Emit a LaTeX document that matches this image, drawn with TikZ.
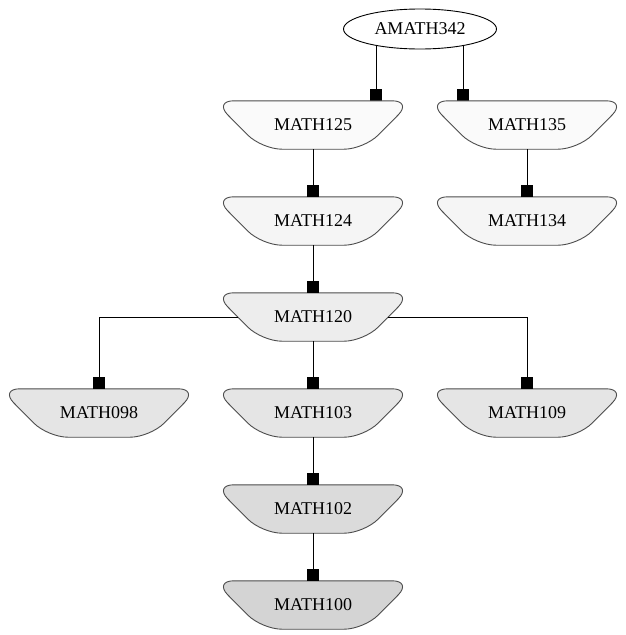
\documentclass[tikz,border=0pt]{standalone}
\usepackage{fontspec}
\setmainfont{Liberation Serif}
\usetikzlibrary{shapes.geometric,arrows.meta,backgrounds}
\begin{document}
\begin{tikzpicture}[x=1pt, y=-1pt,
  course/.style={minimum width=150pt, minimum height=48pt, inner sep=0pt,
    font=\fontsize{18}{20}\selectfont},
  coursebox/.style={draw=black!70, line width=0.9pt, rounded corners=20pt},
  top/.style={ellipse, draw=black, line width=0.9pt, fill=white, minimum width=153pt,
    minimum height=40pt, inner sep=0pt, font=\fontsize{18}{20}\selectfont},
  dep/.style={-{Square[length=12pt,width=12pt]}, line width=0.9pt}]
\useasboundingbox (0,0) rectangle (626,635);
\node[top] (AMATH342) at (420,29) {AMATH342};
\node[course] (MATH125) at (313,125) {MATH125};
\node[course] (MATH135) at (527,125) {MATH135};
\node[course] (MATH124) at (313,221) {MATH124};
\node[course] (MATH134) at (527,221) {MATH134};
\node[course] (MATH120) at (313,317) {MATH120};
\node[course] (MATH098) at (99,413) {MATH098};
\node[course] (MATH103) at (313,413) {MATH103};
\node[course] (MATH109) at (527,413) {MATH109};
\node[course] (MATH102) at (313,509) {MATH102};
\node[course] (MATH100) at (313,605) {MATH100};
\coordinate (a125) at (376,29);
\coordinate (a135) at (463,29);
\begin{scope}[on background layer]
\draw[dep] (a125) -- (a125 |- MATH125.north);
\draw[dep] (a135) -- (a135 |- MATH135.north);
% inverted trapezium outlines
\foreach \c/\g in {MATH125/2, MATH135/2, MATH124/4, MATH134/4, MATH120/7,
    MATH098/10, MATH103/10, MATH109/10, MATH102/14, MATH100/17}
  \path[coursebox, fill=black!\g] ([xshift=-24pt]\c.north west) -- ([xshift=24pt]\c.north east)
    -- ([xshift=-24pt]\c.south east) -- ([xshift=24pt]\c.south west) -- cycle;
\end{scope}
\draw[dep] (MATH125) -- (MATH124);
\draw[dep] (MATH135) -- (MATH134);
\draw[dep] (MATH124) -- (MATH120);
\draw[dep] (MATH120) -| (MATH098);
\draw[dep] (MATH120) -- (MATH103);
\draw[dep] (MATH120) -| (MATH109);
\draw[dep] (MATH103) -- (MATH102);
\draw[dep] (MATH102) -- (MATH100);
\end{tikzpicture}
\end{document}
